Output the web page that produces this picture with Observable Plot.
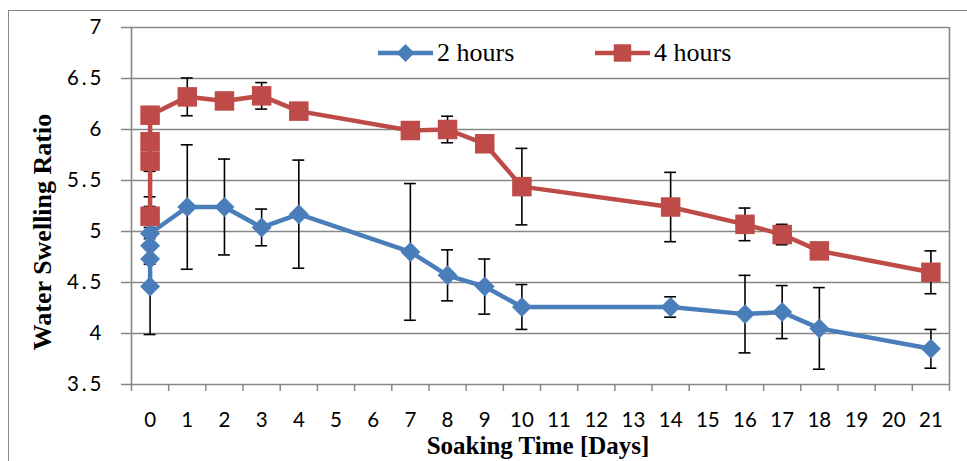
<!DOCTYPE html>
<html>
<head>
<meta charset="utf-8">
<script src="https://cdn.jsdelivr.net/npm/d3@7"></script>
<script src="https://cdn.jsdelivr.net/npm/@observablehq/plot@0.6"></script>
<style>
  body { margin: 0; background: #fff; overflow: hidden; }
  #wrap { position: relative; width: 967px; height: 461px; overflow: hidden; }
  #frame { position: absolute; left: 8px; top: 10px; width: 1000px; height: 500px;
           border: 1.5px solid #8a8a8a; box-sizing: border-box; }
  #chart { position: absolute; left: 0; top: 0; }
  .ylab text { letter-spacing: 3px; }
</style>
</head>
<body>
<div id="wrap"><div id="frame"></div><div id="chart"></div></div>
<script>
// ---- data ----
const dayLabels = [0,1,2,3,4,5,6,7,8,9,10,11,12,13,14,15,16,17,18,19,20,21];
const yTickValues = [3.5, 4, 4.5, 5, 5.5, 6, 6.5, 7];

const seriesNames = ["2 hours", "4 hours"];

const days2h  = [0, 0, 0, 0, 1, 2, 3, 4, 7, 8, 9, 10, 14, 16, 17, 18, 21];
const ratio2h = [4.46, 4.73, 4.86, 4.98, 5.24, 5.24, 5.04, 5.17, 4.80, 4.57, 4.46, 4.26, 4.26, 4.19, 4.21, 4.05, 3.85];
const err2h   = [0.47, 0, 0.18, 0, 0.61, 0.47, 0.18, 0.53, 0.67, 0.25, 0.27, 0.22, 0.10, 0.38, 0.26, 0.40, 0.19];

const days4h  = [0, 0, 0, 0, 1, 2, 3, 4, 7, 8, 9, 10, 14, 16, 17, 18, 21];
const ratio4h = [5.15, 5.69, 5.88, 6.14, 6.32, 6.28, 6.33, 6.18, 5.99, 6.00, 5.86, 5.44, 5.24, 5.07, 4.97, 4.81, 4.60];
const err4h   = [0.19, 0.445, 0.29, 0, 0.185, 0, 0.13, 0, 0, 0.13, 0, 0.375, 0.34, 0.16, 0.10, 0, 0.21];

// ---- styling ----
const BLUE = "#4A7EBB", RED = "#BE4B48", GRID = "#878787";
const CAP = 0.16;
const SANS = "Lato, 'Open Sans', sans-serif";
const SERIF = "'Liberation Serif', 'DejaVu Serif', serif";

const rows2 = days2h.map((d, i) => ({series: seriesNames[0], day: d, value: ratio2h[i], err: err2h[i]}));
const rows4 = days4h.map((d, i) => ({series: seriesNames[1], day: d, value: ratio4h[i], err: err4h[i]}));
const errRows = rows2.concat(rows4).filter(d => d.err > 0);
const boundaries = d3.range(-0.5, 22, 1);

const chart = Plot.plot({
  width: 967,
  height: 461,
  marginLeft: 131,
  marginRight: 18,
  marginTop: 27,
  marginBottom: 77,
  style: {background: "transparent", fontFamily: SANS, color: "black", overflow: "visible"},
  x: {domain: [-0.5, 21.5], label: null},
  y: {domain: [3.5, 7], label: null},
  marks: [
    Plot.ruleY(yTickValues, {stroke: GRID, strokeWidth: 1.4}),
    Plot.ruleX([-0.5, 21.5], {stroke: GRID, strokeWidth: 1.6}),
    Plot.axisX(boundaries, {tickSize: 7, tickFormat: () => "", stroke: GRID, strokeWidth: 1.5}),
    Plot.axisX(dayLabels, {tickSize: 0, tickPadding: 28, fontSize: 20.5, fill: "black", tickFormat: d => String(d)}),
    Plot.axisY(yTickValues, {tickSize: 10, tickPadding: 17, fontSize: 20.5, stroke: GRID, strokeWidth: 1.5,
      fill: "black", tickFormat: d => String(d), className: "ylab"}),
    Plot.ruleX(errRows, {x: "day", y1: d => d.value - d.err, y2: d => d.value + d.err, stroke: "black", strokeWidth: 1.6}),
    Plot.ruleY(errRows, {y: d => d.value - d.err, x1: d => d.day - CAP, x2: d => d.day + CAP, stroke: "black", strokeWidth: 1.6}),
    Plot.ruleY(errRows, {y: d => d.value + d.err, x1: d => d.day - CAP, x2: d => d.day + CAP, stroke: "black", strokeWidth: 1.6}),
    Plot.line(rows2, {x: "day", y: "value", stroke: BLUE, strokeWidth: 4.5, curve: "linear"}),
    Plot.dot(rows2, {x: "day", y: "value", symbol: "diamond2", r: 9, fill: BLUE, stroke: "none"}),
    Plot.line(rows4, {x: "day", y: "value", stroke: RED, strokeWidth: 4.5, curve: "linear"}),
    Plot.dot(rows4, {x: "day", y: "value", symbol: "square", r: 11, fill: RED, stroke: "none"})
  ]
});

document.getElementById("chart").appendChild(chart);

// titles and legend
const svg = d3.select(chart);
svg.append("text")
  .attr("transform", "translate(42,232) rotate(-90)")
  .attr("text-anchor", "middle")
  .attr("dominant-baseline", "central")
  .attr("font-family", SERIF).attr("font-weight", "bold").attr("font-size", 26)
  .attr("fill", "black")
  .text("Water Swelling Ratio");
svg.append("text")
  .attr("x", 538).attr("y", 454)
  .attr("text-anchor", "middle")
  .attr("font-family", SERIF).attr("font-weight", "bold").attr("font-size", 25)
  .attr("fill", "black")
  .text("Soaking Time [Days]");

const legendItems = [
  {name: seriesNames[0], color: BLUE, x: 378, symbol: d3.symbolDiamond2, size: Math.PI * 81},
  {name: seriesNames[1], color: RED, x: 595, symbol: d3.symbolSquare, size: Math.PI * 11 * 11}
];
const lg = svg.append("g");
legendItems.forEach(it => {
  const g = lg.append("g").attr("transform", `translate(${it.x},53)`);
  g.append("line").attr("x1", 0).attr("x2", 55).attr("y1", 0).attr("y2", 0)
    .attr("stroke", it.color).attr("stroke-width", 4.5);
  g.append("path").attr("transform", "translate(27.5,0)")
    .attr("d", d3.symbol(it.symbol, it.size * 0.8)()).attr("fill", it.color);
  g.append("text").attr("x", 59).attr("y", 8)
    .attr("text-anchor", "start")
    .attr("font-family", SERIF).attr("font-size", 26).attr("fill", "black")
    .text(it.name);
});
</script>
</body>
</html>
